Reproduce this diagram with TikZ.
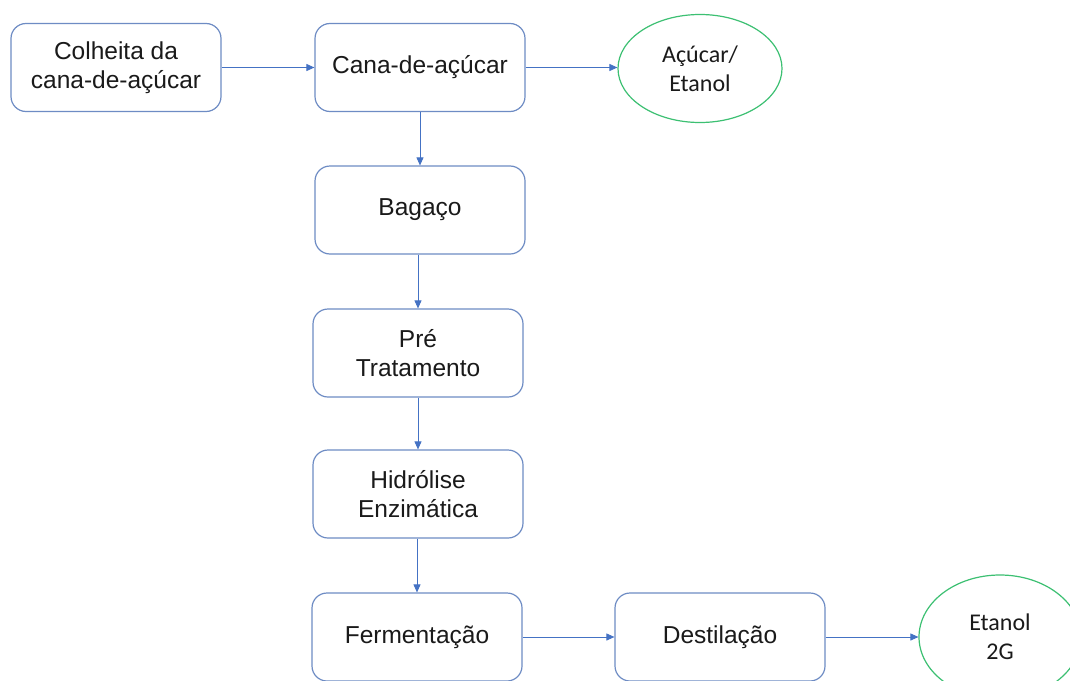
\documentclass[tikz,border=0pt]{standalone}
\usepackage{fontspec}
\setmainfont{Liberation Sans}
\newfontfamily\calibrifont{Carlito}
\usetikzlibrary{arrows.meta,shapes.geometric}
\definecolor{boxline}{HTML}{6E8CC4}
\definecolor{arrowblue}{HTML}{4472C4}
\definecolor{ovalgreen}{HTML}{3CC072}
\definecolor{txt}{HTML}{1A1A1A}
\begin{document}
\begin{tikzpicture}[x=1pt,y=-1pt,
  stepbox/.style={draw=boxline,line width=1.2pt,rounded corners=15pt,fill=white,
    minimum width=210pt,minimum height=88pt,align=center,text=txt,inner sep=0pt,
    font=\fontsize{24.5}{29.5}\selectfont},
  product/.style={draw=ovalgreen,line width=1.2pt,ellipse,fill=white,align=center,
    text=txt,inner sep=0pt,font=\calibrifont\fontsize{24}{29}\selectfont},
  flow/.style={draw=arrowblue,line width=0.9pt,-{Triangle[length=8pt,width=7pt]}}]
\useasboundingbox (0,0) rectangle (1070,680);
\clip (0,0) rectangle (1070,680);
\fill[white] (0,0) rectangle (1070,680);

\node[stepbox] (colheita) at (116,67.5) {Colheita da\\cana-de-açúcar};
\node[stepbox] (cana) at (420,67.5) {Cana-de-açúcar};
\node[product,minimum width=164pt,minimum height=108pt] (acucar) at (700,68.5) {Açúcar/\\Etanol};
\node[stepbox] (bagaco) at (420,210) {Bagaço};
\node[stepbox] (pre) at (418,353) {Pré\\Tratamento};
\node[stepbox] (hidro) at (418,494) {Hidrólise\\Enzimática};
\node[stepbox] (ferm) at (417,637) {Fermentação};
\node[stepbox] (dest) at (720,637) {Destilação};
\node[product,minimum width=162pt,minimum height=124pt] (etanol) at (1000,637) {Etanol\\2G};

\draw[flow] (colheita.east) -- (cana.west);
\draw[flow] (cana.east) -- (cana.east -| acucar.west);
\draw[flow] (cana.south) -- (bagaco.north);
\draw[flow] (bagaco.south -| pre.north) -- (pre.north);
\draw[flow] (pre.south -| hidro.north) -- (hidro.north);
\draw[flow] (hidro.south -| ferm.north) -- (ferm.north);
\draw[flow] (ferm.east) -- (dest.west);
\draw[flow] (dest.east) -- (etanol.west);
\end{tikzpicture}
\end{document}
